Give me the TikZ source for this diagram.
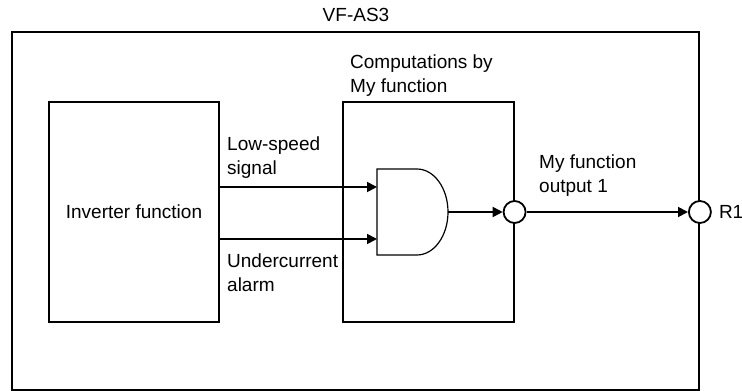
\documentclass[tikz,border=0pt]{standalone}
\usepackage{fontspec}
\setmainfont{Liberation Sans}
\usetikzlibrary{arrows.meta,positioning}
\tikzset{
  frm/.style ={draw,line width=1.8pt,inner sep=0pt},
  blk/.style ={draw,line width=1.2pt,minimum width=170pt,minimum height=220pt,
               inner sep=0pt,font=\fontsize{19}{24}\selectfont},
  txt/.style ={align=left,inner sep=0pt,font=\fontsize{19}{24}\selectfont},
  pin/.style ={draw,circle,line width=1.8pt,minimum size=22pt,inner sep=0pt,fill=white},
  ar/.style  ={-{Triangle[length=10pt,width=10pt]},line width=1.8pt},
}

\begin{document}
\begin{tikzpicture}[x=1pt,y=1pt]
\useasboundingbox (0,0) rectangle (742,391);
\node[frm,minimum width=687pt,minimum height=358pt] (vf) at (355.5,180) {};
\node[txt,anchor=base] (title) at (356,369) {VF-AS3};
\node[blk] (inv) at (134,179) {Inverter function};
\node[blk,minimum width=171pt] (cmp) at (428.5,179) {};
\node[txt,anchor=base west] (cmpl) at (350,298) {Computations by\\My function};
% and gate
\draw[line width=1.2pt] (377,222) -- (417,222)
  arc[start angle=90,end angle=-90,x radius=31,y radius=43] -- (377,136) -- cycle;
\coordinate (g1) at (377,204);
\coordinate (g2) at (377,152);
\coordinate (go) at (448,179);
\node[pin] (o1) at (cmp.east |- go) {};
\node[pin] (r1) at (vf.east |- go) {};
\node[txt,right=7pt of r1] (r1l) {R1};
\node[txt,anchor=base west] (lsl) at (227,216) {Low-speed\\signal};
\node[txt,anchor=base west] (ucl) at (227,99) {Undercurrent\\alarm};
\node[txt,anchor=base west] (outl) at (539,198) {My function\\output 1};
\draw[ar](inv.east |- g1)--(g1); \draw[ar](inv.east |- g2)--(g2);
\draw[ar](go)--(o1); \draw[ar](o1)--(r1);
\end{tikzpicture}
\end{document}
